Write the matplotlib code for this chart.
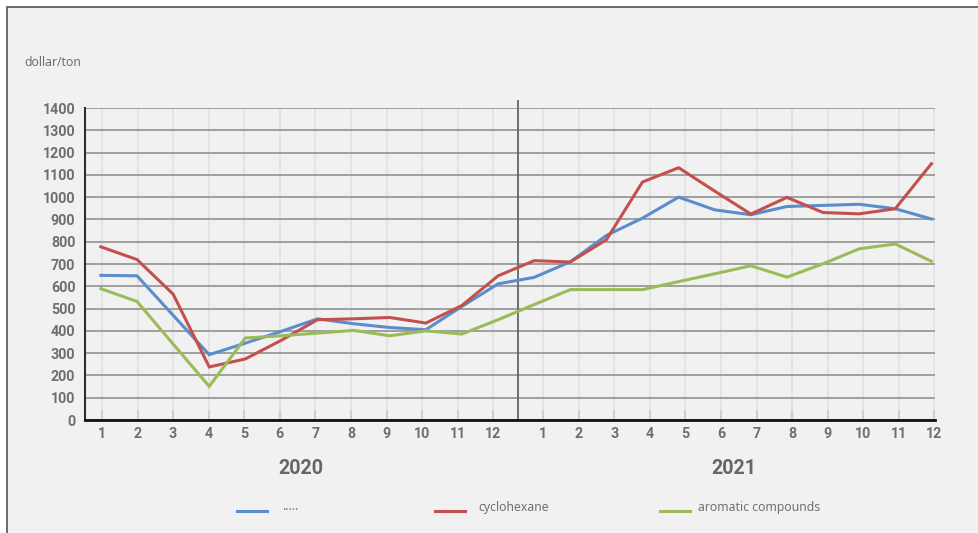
import matplotlib
matplotlib.use("Agg")
import matplotlib.pyplot as plt
from matplotlib.lines import Line2D
from matplotlib.patches import Rectangle
import numpy as np

plt.rcParams['font.family'] = ['Noto Sans', 'DejaVu Sans']
BOLD_FONT = ['Roboto', 'Open Sans', 'DejaVu Sans']

# monthly prices, 2020-01 .. 2021-12 (dollar/ton)
months = [str(m) for m in range(1, 13)]
years = ['2020', '2021']
series_names = ['.....', 'cyclohexane', 'aromatic compounds']
series_colors = ['#5b8dcc', '#c4504d', '#9bbb59']

blue = [649, 647, 470, 293, 345, 398, 454, 432, 415, 405, 510, 611,
        640, 710, 828, 906, 1000, 943, 921, 958, 963, 968, 948, 902]
red = [777, 720, 565, 238, 274, 358, 450, 454, 460, 435, 514, 647,
       715, 709, 809, 1068, 1132, 1027, 924, 999, 931, 925, 948, 1150]
green = [589, 532, 341, 151, 368, 378, 390, 402, 378, 400, 386, 450,
         518, 585, 585, 585, 621, 656, 692, 641, 701, 768, 790, 712]
series = [blue, red, green]

W, H = 979, 533
fig = plt.figure(figsize=(W / 100, H / 100), dpi=100)
fig.patch.set_facecolor('white')
fig.add_artist(Rectangle((7 / W, -0.1), 1.2, 1 - 7 / H + 0.1, transform=fig.transFigure,
                         facecolor='#f1f1f1', edgecolor='#5f5f5f', lw=1.3, zorder=0))

ax = fig.add_axes([85 / W, 1 - 420 / H, (935 - 85) / W, (420 - 108) / H])
ax.set_facecolor('none')

x = np.arange(len(blue))
for vals, name, col in zip(series, series_names, series_colors):
    ax.plot(x, vals, color=col, lw=2.2, label=name, zorder=3, solid_joinstyle='miter')

ax.set_xlim(-0.44, 23.1)
ax.set_ylim(0, 1400)
ax.set_yticks(np.arange(0, 1401, 100))

# category ticks: two years with a gap around the year divider
step = 0.985
pos20 = [0.03 + step * i for i in range(12)]
pos21 = [12.25 + step * i for i in range(12)]
ax.set_xticks(pos20 + pos21)
ax.set_xticklabels(months + months)
divider = 11.555

ax.grid(axis='y', color='#929292', lw=1.2, zorder=1)
ax.grid(axis='x', color='#e3e3e3', lw=1.4, zorder=1)
ax.axvline(divider, ymin=0, ymax=1.022, color='#5a6873', lw=1.3, clip_on=False, zorder=2)

for s in ['top', 'right']:
    ax.spines[s].set_visible(False)
ax.spines['left'].set_color('#2e2e2e')
ax.spines['left'].set_linewidth(1.5)
ax.spines['bottom'].set_color('#111111')
ax.spines['bottom'].set_linewidth(2)
ax.spines['bottom'].set_zorder(4)

ax.tick_params(axis='x', direction='in', length=7.5, width=1.5, color='#cfcfcf',
               pad=5, labelsize=10.3, labelcolor='#6e6e6e')
ax.tick_params(axis='y', length=0, pad=7, labelsize=10.3, labelcolor='#6e6e6e')
for lab in ax.get_xticklabels() + ax.get_yticklabels():
    lab.set_fontweight('bold')
    lab.set_family(BOLD_FONT)

fig.text(24 / W, 1 - 63 / H, 'dollar/ton', fontsize=8.8, color='#6e6e6e', va='center', ha='left')

fig.text(301 / W, 1 - 468 / H, years[0], fontsize=14.2, fontweight='bold', color='#666666',
         ha='center', va='center', family=BOLD_FONT)
fig.text(734 / W, 1 - 468 / H, years[1], fontsize=14.2, fontweight='bold', color='#666666',
         ha='center', va='center', family=BOLD_FONT)

# legend
leg_x = [237, 435, 660]
text_x = [282, 478, 698]
for lx, tx, name, col in zip(leg_x, text_x, series_names, series_colors):
    fig.add_artist(Line2D([lx / W, (lx + 30) / W], [1 - 511 / H, 1 - 511 / H],
                          transform=fig.transFigure, color=col, lw=2.2))
    fig.text(tx / W, 1 - 507 / H, name, fontsize=8.8, color='#707070', ha='left', va='center')

fig.savefig('out.png', dpi=100, facecolor=fig.get_facecolor())
